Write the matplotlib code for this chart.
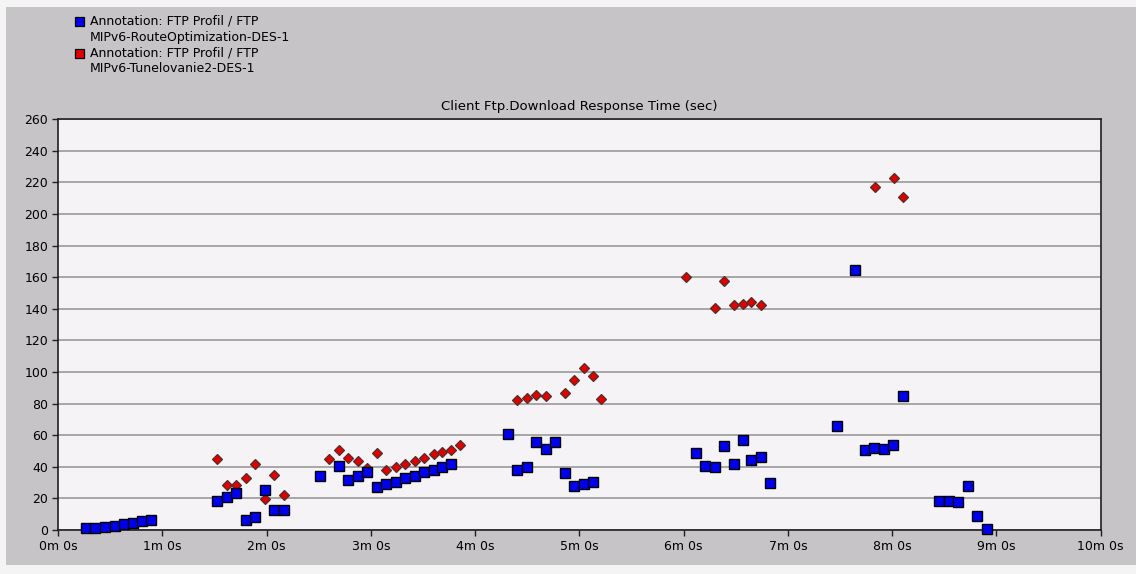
import numpy as np
import matplotlib
matplotlib.use("Agg")
import matplotlib.pyplot as plt
from matplotlib.patches import Rectangle

# Route optimization series (time in seconds, response time in sec)
ro_t = [16.1, 21.5, 27.0, 32.6, 38.0, 43.3, 48.1, 53.5,
        91.6, 97.0, 102.6, 107.9, 113.5, 119.1, 124.4, 129.8,
        150.9, 161.6, 167.0, 172.6, 177.9, 183.3, 188.9, 194.4, 199.8,
        205.4, 210.7, 216.3, 220.7, 226.3,
        259.0, 264.4, 269.8, 275.1, 280.7, 286.1, 291.7, 297.0, 302.4, 307.9,
        367.2, 372.5, 378.0, 383.5, 388.9, 394.2, 399.0, 404.4, 409.8,
        448.1, 458.9, 464.4, 469.8, 475.3, 480.7, 486.3,
        507.2, 512.7, 518.1, 523.7, 529.0, 534.6]
ro_v = [1.1, 1.1, 1.9, 2.8, 3.8, 4.7, 5.5, 6.3,
        18.6, 21.2, 23.7, 6.6, 8.5, 25.4, 12.7, 12.7,
        34.1, 40.8, 31.5, 34.1, 36.6, 27.3, 29.0, 30.5, 33.2,
        34.1, 36.6, 38.3, 40.0, 41.7,
        60.8, 38.3, 40.0, 55.7, 51.2, 55.7, 35.8, 28.1, 29.0, 30.7,
        48.7, 40.8, 40.0, 52.9, 41.7, 57.1, 44.2, 45.9, 29.6,
        65.8, 164.6, 50.4, 52.1, 51.2, 53.8, 84.6,
        18.6, 18.6, 17.6, 27.9, 9.1, 0.8]

# Tunneling series
tu_t = [91.6, 97.0, 102.6, 107.9, 113.5, 119.1, 124.4, 129.8,
        156.1, 161.6, 167.0, 172.6, 177.9, 183.3, 188.9, 194.4, 199.8,
        205.4, 210.7, 216.3, 220.7, 226.3, 231.6,
        264.4, 269.8, 275.1, 280.7, 291.7, 297.0, 302.4, 307.9, 312.2,
        361.6, 378.0, 383.3, 388.9, 394.2, 399.0, 404.6,
        470.0, 480.9, 486.3]
tu_v = [45.1, 28.8, 28.8, 33.2, 41.7, 19.5, 34.7, 21.9,
        45.2, 50.4, 45.3, 43.4, 39.5, 48.7, 38.3, 40.0, 41.7,
        43.4, 45.3, 47.8, 49.5, 50.4, 53.8,
        82.1, 83.8, 85.5, 84.7, 86.6, 95.0, 102.6, 97.6, 83.0,
        160.4, 140.5, 157.7, 142.2, 143.3, 144.1, 142.2,
        217.1, 223.1, 211.0]

legend_labels = ["Annotation: FTP Profil / FTP\nMIPv6-RouteOptimization-DES-1",
                 "Annotation: FTP Profil / FTP\nMIPv6-Tunelovanie2-DES-1"]
x_ticks = list(range(0, 601, 60))
x_ticklabels = ["%dm 0s" % (s // 60) for s in x_ticks]
y_ticks = list(range(0, 261, 20))

plt.rcParams['font.family'] = ['DejaVu Sans']
plt.rcParams['font.size'] = 9

W, H = 1136, 574
fig = plt.figure(figsize=(W / 100, H / 100), dpi=100)
fig.patch.set_facecolor('#f4f4f4')
fig.patches.append(Rectangle((6 / W, (H - 565) / H), 1 - 6 / W, (565 - 7) / H,
                             transform=fig.transFigure, facecolor='#c6c4c6',
                             edgecolor='none', zorder=-5))

ax = fig.add_axes([58 / W, (H - 530) / H, (1100.7 - 58) / W, (530 - 119.3) / H])
ax.set_facecolor('#f6f3f6')
ax.set_xlim(0, 600)
ax.set_ylim(0, 260)
ax.set_xticks(x_ticks)
ax.set_xticklabels(x_ticklabels)
ax.set_yticks(y_ticks)
ax.grid(axis='y', color='#a0a0a0', linewidth=1.3)
ax.set_axisbelow(True)
for s in ax.spines.values():
    s.set_color('#202020')
    s.set_linewidth(1.2)
ax.tick_params(direction='out', length=4, width=1, color='#202020', pad=3,
               labelcolor='#000000')

ax.plot(tu_t, tu_v, linestyle='none', marker='D', markersize=5.2,
        markerfacecolor='#e00000', markeredgecolor='#503030',
        markeredgewidth=0.9, clip_on=False, zorder=3)
ax.plot(ro_t, ro_v, linestyle='none', marker='s', markersize=6.5,
        markerfacecolor='#0000ee', markeredgecolor='#000000',
        markeredgewidth=1.0, clip_on=False, zorder=4)

ax.set_title("Client Ftp.Download Response Time (sec)", fontsize=9.5, pad=7)

# legend drawn as figure text
colors = ['#0000ee', '#e00000']
for i, (lab, c) in enumerate(zip(legend_labels, colors)):
    ytop = 17 + i * 32
    fig.patches.append(Rectangle((75 / W, (H - ytop - 9) / H), 9 / W, 9 / H,
                                 transform=fig.transFigure, facecolor=c,
                                 edgecolor='#000000', linewidth=0.9))
    fig.text(90 / W, (H - ytop + 3) / H, lab, ha='left', va='top',
             fontsize=9, linespacing=1.35)

fig.savefig("out.png", dpi=100, facecolor=fig.get_facecolor())
